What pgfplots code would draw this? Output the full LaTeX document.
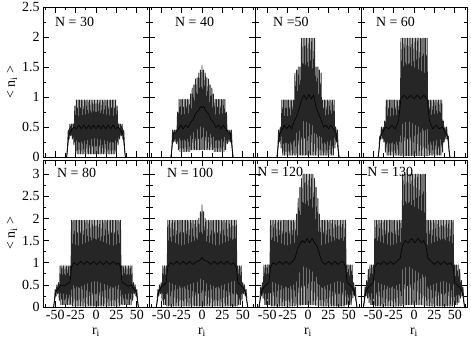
\documentclass[border=0pt]{standalone}
\usepackage{fontspec}
\setmainfont{Liberation Serif}
\usepackage{pgfplots}
\pgfplotsset{compat=1.18}
\usepgfplotslibrary{groupplots}
\pgfplotsset{
  toprow/.style={ymin=0,ymax=2.5,height=150bp,ytick={0,0.5,1,1.5,2,2.5}},
  botrow/.style={ymin=0,ymax=3.32,height=147bp,ytick={0,0.5,1,1.5,2,2.5,3}},
  zig/.style={black!85,line width=0.9pt,line join=round,no marks},
  avg/.style={black,line width=0.6pt,no marks},
}
\newcommand{\lab}[3]{\node[anchor=north west,inner sep=0pt,font=\fontsize{14}{14}\selectfont] at (rel axis cs:#1,#2) {#3};}
\begin{document}
\begin{tikzpicture}
\begin{groupplot}[
  group style={group size=4 by 2, horizontal sep=0pt, vertical sep=3bp,
    xticklabels at=edge bottom, yticklabels at=edge left},
  scale only axis, width=106bp,
  xmin=-65, xmax=65,
  xtick={-50,-25,0,25,50},
  minor xtick={-62.5,-37.5,-12.5,12.5,37.5,62.5},
  minor y tick num=1,
  tick align=inside,
  major tick length=6bp, minor tick length=3.5bp,
  tick style={black,line width=0.7pt},
  axis line style={line width=0.9pt},
  every tick label/.append style={font=\fontsize{14}{14}\selectfont},
  /pgf/number format/assume math mode=true,
  label style={font=\fontsize{14}{14}\selectfont},
  ylabel style={at={(axis description cs:-0.292,0.5)},anchor=center},
  xlabel style={at={(axis description cs:0.5,-0.17)},anchor=center},
]
% ---------------- N = 30
\nextgroupplot[toprow, ylabel={< n\textsubscript{i} >}]
\addplot[zig] coordinates {(-36,0)(-35,0.15)(-34,0.45)(-33,0.3)(-32,0.55)(-31,0.35)(-30,0.55)(-29,0.3)(-28,0.55)(-27,0.2)(-26,0.85)(-25,0.08)
(-24,0.95)(-23,0.05)(-22,0.95)(-21,0.05)(-20,0.95)(-19,0.05)(-18,0.95)(-17,0.05)(-16,0.95)(-15,0.05)(-14,0.95)(-13,0.05)(-12,0.95)(-11,0.05)(-10,0.95)(-9,0.05)(-8,0.95)(-7,0.05)(-6,0.95)(-5,0.05)(-4,0.95)(-3,0.05)(-2,0.95)(-1,0.05)(0,0.95)(1,0.05)(2,0.95)(3,0.05)(4,0.95)(5,0.05)(6,0.95)(7,0.05)(8,0.95)(9,0.05)(10,0.95)(11,0.05)(12,0.95)(13,0.05)(14,0.95)(15,0.05)(16,0.95)(17,0.05)(18,0.95)(19,0.05)(20,0.95)(21,0.05)(22,0.95)(23,0.05)(24,0.95)
(25,0.08)(26,0.85)(27,0.2)(28,0.55)(29,0.3)(30,0.55)(31,0.35)(32,0.55)(33,0.3)(34,0.45)(35,0.15)(36,0)};
\addplot[avg] coordinates {(-36,0)(-33,0.38)(-30,0.45)(-27,0.5)(-24,0.47)(-21,0.53)(-18,0.47)(-15,0.53)(-12,0.47)(-9,0.53)(-6,0.47)(-3,0.53)(0,0.47)(3,0.53)(6,0.47)(9,0.53)(12,0.47)(15,0.53)(18,0.47)(21,0.53)(24,0.47)(27,0.5)(30,0.45)(33,0.38)(36,0)};
\lab{0.113}{0.933}{N = 30}
% ---------------- N = 40
\nextgroupplot[toprow]
\addplot[zig] coordinates {(-38,0)(-37,0.15)(-36,0.45)(-35,0.25)(-34,0.45)(-33,0.25)(-32,0.45)(-31,0.22)(-30,0.75)(-29,0.12)
(-28,0.96)(-27,0.09)(-26,0.96)(-25,0.09)(-24,0.96)(-23,0.09)(-22,0.96)(-21,0.09)(-20,0.96)(-19,0.09)(-18,0.96)(-17,0.09)(-16,0.96)(-15,0.09)
(-14,1.05)(-13,0.12)(-12,1.15)(-11,0.12)(-10,1.2)(-9,0.12)(-8,1.3)(-7,0.12)(-6,1.32)(-5,0.12)(-4,1.4)(-3,0.12)(-2,1.45)(-1,0.12)(0,1.52)(1,0.12)(2,1.45)(3,0.12)(4,1.4)(5,0.12)(6,1.32)(7,0.12)(8,1.3)(9,0.12)(10,1.2)(11,0.12)(12,1.15)(13,0.12)(14,1.05)
(15,0.09)(16,0.96)(17,0.09)(18,0.96)(19,0.09)(20,0.96)(21,0.09)(22,0.96)(23,0.09)(24,0.96)(25,0.09)(26,0.96)(27,0.09)(28,0.96)
(29,0.12)(30,0.75)(31,0.22)(32,0.45)(33,0.25)(34,0.45)(35,0.25)(36,0.45)(37,0.15)(38,0)};
\addplot[avg] coordinates {(-38,0)(-35,0.38)(-32,0.42)(-29,0.47)(-26,0.53)(-23,0.47)(-20,0.53)(-17,0.49)(-14,0.58)(-11,0.62)(-8,0.72)(-5,0.76)(-2,0.84)(0,0.82)(2,0.84)(5,0.76)(8,0.72)(11,0.62)(14,0.58)(17,0.49)(20,0.53)(23,0.47)(26,0.53)(29,0.47)(32,0.42)(35,0.38)(38,0)};
\lab{0.245}{0.933}{N = 40}
% ---------------- N = 50
\nextgroupplot[toprow]
\addplot[zig] coordinates {(-38,0)(-37,0.15)(-36,0.45)(-35,0.25)(-34,0.5)(-33,0.15)
(-32,0.95)(-31,0.03)(-30,0.95)(-29,0.03)(-28,0.95)(-27,0.03)(-26,0.95)(-25,0.03)(-24,0.95)(-23,0.03)(-22,0.95)(-21,0.03)(-20,0.95)(-19,0.03)(-18,0.95)(-17,0.03)
(-16,1.4)(-15,0.03)(-14,1.45)(-13,0.03)(-12,1.5)(-11,0.03)(-10,1.5)(-9,0.03)
(-8,1.98)(-7,0.03)(-6,1.98)(-5,0.03)(-4,1.98)(-3,0.03)(-2,1.98)(-1,0.03)(0,1.98)(1,0.03)(2,1.98)(3,0.03)(4,1.98)(5,0.03)(6,1.98)(7,0.03)(8,1.98)
(9,0.03)(10,1.5)(11,0.03)(12,1.5)(13,0.03)(14,1.45)(15,0.03)(16,1.4)
(17,0.03)(18,0.95)(19,0.03)(20,0.95)(21,0.03)(22,0.95)(23,0.03)(24,0.95)(25,0.03)(26,0.95)(27,0.03)(28,0.95)(29,0.03)(30,0.95)(31,0.03)(32,0.95)
(33,0.15)(34,0.5)(35,0.25)(36,0.45)(37,0.15)(38,0)};
\addplot[avg] coordinates {(-38,0)(-35,0.38)(-32,0.45)(-29,0.53)(-26,0.47)(-23,0.53)(-20,0.47)(-17,0.6)(-14,0.68)(-11,0.8)(-8,0.95)(-5,1.03)(-2,0.96)(1,1.04)(4,0.97)(7,1.03)(10,0.82)(13,0.72)(16,0.62)(19,0.5)(22,0.53)(25,0.47)(28,0.53)(31,0.47)(34,0.42)(38,0)};
\lab{0.17}{0.933}{N =50}
% ---------------- N = 60
\nextgroupplot[toprow]
\addplot[zig] coordinates {(-44,0)(-43,0.1)(-42,0.35)(-41,0.3)(-40,0.5)(-39,0.3)(-38,0.5)(-37,0.25)(-36,0.6)(-35,0.08)
(-34,0.95)(-33,0.03)(-32,0.95)(-31,0.03)(-30,0.95)(-29,0.03)(-28,0.95)(-27,0.03)(-26,0.95)(-25,0.03)(-24,0.95)(-23,0.03)(-22,0.95)(-21,0.03)(-20,0.95)(-19,0.03)(-18,0.95)(-17,0.02)
(-16,1.98)(-15,0.02)(-14,1.98)(-13,0.02)(-12,1.98)(-11,0.02)(-10,1.98)(-9,0.02)(-8,1.98)(-7,0.02)(-6,1.98)(-5,0.02)(-4,1.98)(-3,0.02)(-2,1.98)(-1,0.02)(0,1.98)(1,0.02)(2,1.98)(3,0.02)(4,1.98)(5,0.02)(6,1.98)(7,0.02)(8,1.98)(9,0.02)(10,1.98)(11,0.02)(12,1.98)(13,0.02)(14,1.98)(15,0.02)(16,1.98)
(17,0.02)(18,0.95)(19,0.03)(20,0.95)(21,0.03)(22,0.95)(23,0.03)(24,0.95)(25,0.03)(26,0.95)(27,0.03)(28,0.95)(29,0.03)(30,0.95)(31,0.03)(32,0.95)(33,0.03)(34,0.95)
(35,0.08)(36,0.6)(37,0.25)(38,0.5)(39,0.3)(40,0.5)(41,0.3)(42,0.35)(43,0.1)(44,0)};
\addplot[avg] coordinates {(-44,0)(-41,0.35)(-38,0.42)(-35,0.5)(-31,0.47)(-27,0.53)(-23,0.47)(-19,0.6)(-16,0.97)(-12,1.03)(-8,0.97)(-4,1.03)(0,0.97)(4,1.03)(8,0.97)(12,1.03)(16,0.97)(19,0.6)(23,0.47)(27,0.53)(31,0.47)(35,0.5)(38,0.42)(41,0.35)(44,0)};
\lab{0.14}{0.933}{N = 60}
% ---------------- N = 80
\nextgroupplot[botrow, ylabel={< n\textsubscript{i} >}, xlabel={r\textsubscript{i}}]
\addplot[zig] coordinates {(-52,0)(-51,0.15)(-50,0.4)(-49,0.25)(-48,0.5)(-47,0.3)(-46,0.55)(-45,0.15)
(-44,0.93)(-43,0.05)(-42,0.93)(-41,0.05)(-40,0.93)(-39,0.05)(-38,0.93)(-37,0.05)(-36,0.93)(-35,0.05)(-34,0.93)(-33,0.05)(-32,0.93)(-31,0.05)
(-30,1.96)(-29,0.02)(-28,1.96)(-27,0.02)(-26,1.96)(-25,0.02)(-24,1.96)(-23,0.02)(-22,1.96)(-21,0.02)(-20,1.96)(-19,0.02)(-18,1.96)(-17,0.02)(-16,1.96)(-15,0.02)(-14,1.96)(-13,0.02)(-12,1.96)(-11,0.02)(-10,1.96)(-9,0.02)(-8,1.96)(-7,0.02)(-6,1.96)(-5,0.02)(-4,1.96)(-3,0.02)(-2,1.96)(-1,0.02)(0,1.96)(1,0.02)(2,1.96)(3,0.02)(4,1.96)(5,0.02)(6,1.96)(7,0.02)(8,1.96)(9,0.02)(10,1.96)(11,0.02)(12,1.96)(13,0.02)(14,1.96)(15,0.02)(16,1.96)(17,0.02)(18,1.96)(19,0.02)(20,1.96)(21,0.02)(22,1.96)(23,0.02)(24,1.96)(25,0.02)(26,1.96)(27,0.02)(28,1.96)(29,0.02)(30,1.96)
(31,0.05)(32,0.93)(33,0.05)(34,0.93)(35,0.05)(36,0.93)(37,0.05)(38,0.93)(39,0.05)(40,0.93)(41,0.05)(42,0.93)(43,0.05)(44,0.93)
(45,0.15)(46,0.55)(47,0.3)(48,0.5)(49,0.25)(50,0.4)(51,0.15)(52,0)};
\addplot[avg] coordinates {(-52,0)(-49,0.35)(-46,0.42)(-43,0.5)(-39,0.47)(-35,0.53)(-32,0.55)(-30,0.9)(-27,1.0)(-23,0.95)(-19,1.03)(-15,0.96)(-11,1.03)(-7,0.96)(-3,1.03)(1,0.96)(5,1.03)(9,0.96)(13,1.03)(17,0.96)(21,1.03)(25,0.96)(28,1.0)(30,0.9)(32,0.55)(35,0.53)(39,0.47)(43,0.5)(46,0.42)(49,0.35)(52,0)};
\lab{0.132}{0.946}{N = 80}
% ---------------- N = 100
\nextgroupplot[botrow, xlabel={r\textsubscript{i}}]
\addplot[zig] coordinates {(-56,0)(-55,0.15)(-54,0.4)(-53,0.25)(-52,0.5)(-51,0.3)(-50,0.55)(-49,0.15)
(-48,0.93)(-47,0.05)(-46,0.93)(-45,0.05)(-44,0.93)(-43,0.02)
(-42,1.96)(-41,0.02)(-40,1.96)(-39,0.02)(-38,1.96)(-37,0.02)(-36,1.96)(-35,0.02)(-34,1.96)(-33,0.02)(-32,1.96)(-31,0.02)(-30,1.96)(-29,0.02)(-28,1.96)(-27,0.02)(-26,1.96)(-25,0.02)(-24,1.96)(-23,0.02)(-22,1.96)(-21,0.02)(-20,1.96)(-19,0.02)(-18,1.96)(-17,0.02)(-16,1.96)(-15,0.02)(-14,1.96)(-13,0.02)(-12,1.96)(-11,0.02)(-10,1.96)(-9,0.02)(-8,1.96)(-7,0.02)(-6,1.96)(-5,0.02)
(-4,2.0)(-3,0.02)(-2,2.15)(-1,0.02)(0,2.3)(1,0.02)(2,2.15)(3,0.02)(4,2.0)
(5,0.02)(6,1.96)(7,0.02)(8,1.96)(9,0.02)(10,1.96)(11,0.02)(12,1.96)(13,0.02)(14,1.96)(15,0.02)(16,1.96)(17,0.02)(18,1.96)(19,0.02)(20,1.96)(21,0.02)(22,1.96)(23,0.02)(24,1.96)(25,0.02)(26,1.96)(27,0.02)(28,1.96)(29,0.02)(30,1.96)(31,0.02)(32,1.96)(33,0.02)(34,1.96)(35,0.02)(36,1.96)(37,0.02)(38,1.96)(39,0.02)(40,1.96)(41,0.02)(42,1.96)
(43,0.02)(44,0.93)(45,0.05)(46,0.93)(47,0.05)(48,0.93)
(49,0.15)(50,0.55)(51,0.3)(52,0.5)(53,0.25)(54,0.4)(55,0.15)(56,0)};
\addplot[avg] coordinates {(-56,0)(-53,0.35)(-50,0.45)(-47,0.5)(-44,0.55)(-42,0.9)(-39,1.0)(-35,0.96)(-31,1.03)(-27,0.96)(-23,1.03)(-19,0.96)(-15,1.03)(-11,0.96)(-7,1.03)(-3,1.05)(0,1.12)(3,1.05)(7,1.03)(11,0.96)(15,1.03)(19,0.96)(23,1.03)(27,0.96)(31,1.03)(35,0.96)(39,1.0)(42,0.9)(44,0.55)(47,0.5)(50,0.45)(53,0.35)(56,0)};
\lab{0.17}{0.946}{N = 100}
% ---------------- N = 120
\nextgroupplot[botrow, xlabel={r\textsubscript{i}}]
\addplot[zig] coordinates {(-60,0)(-59,0.15)(-58,0.45)(-57,0.25)(-56,0.55)(-55,0.2)
(-54,0.95)(-53,0.05)(-52,0.95)(-51,0.05)(-50,0.95)(-49,0.05)(-48,0.95)(-47,0.05)
(-46,1.96)(-45,0.02)(-44,1.96)(-43,0.02)(-42,1.96)(-41,0.02)(-40,1.96)(-39,0.02)(-38,1.96)(-37,0.02)(-36,1.96)(-35,0.02)(-34,1.96)(-33,0.02)(-32,1.96)(-31,0.02)(-30,1.96)(-29,0.02)(-28,1.96)(-27,0.02)(-26,1.96)(-25,0.02)(-24,1.96)(-23,0.02)(-22,1.96)(-21,0.02)(-20,1.96)(-19,0.02)(-18,1.96)(-17,0.02)(-16,1.96)(-15,0.03)
(-14,2.1)(-13,0.03)(-12,2.45)(-11,0.04)(-10,2.7)(-9,0.04)(-8,2.9)(-7,0.05)(-6,3.0)(-5,0.05)(-4,3.0)(-3,0.05)(-2,3.0)(-1,0.05)(0,3.0)(1,0.05)(2,3.0)(3,0.05)(4,3.0)(5,0.05)(6,3.0)(7,0.05)(8,2.9)(9,0.04)(10,2.7)(11,0.04)(12,2.45)(13,0.03)(14,2.1)
(15,0.03)(16,1.96)(17,0.02)(18,1.96)(19,0.02)(20,1.96)(21,0.02)(22,1.96)(23,0.02)(24,1.96)(25,0.02)(26,1.96)(27,0.02)(28,1.96)(29,0.02)(30,1.96)(31,0.02)(32,1.96)(33,0.02)(34,1.96)(35,0.02)(36,1.96)(37,0.02)(38,1.96)(39,0.02)(40,1.96)(41,0.02)(42,1.96)(43,0.02)(44,1.96)(45,0.02)(46,1.96)
(47,0.05)(48,0.95)(49,0.05)(50,0.95)(51,0.05)(52,0.95)(53,0.05)(54,0.95)
(55,0.2)(56,0.55)(57,0.25)(58,0.45)(59,0.15)(60,0)};
\addplot[avg] coordinates {(-60,0)(-57,0.35)(-54,0.45)(-51,0.5)(-48,0.55)(-46,0.9)(-43,1.0)(-39,0.96)(-35,1.03)(-31,0.96)(-27,1.03)(-23,0.96)(-19,1.03)(-16,1.1)(-13,1.3)(-10,1.42)(-7,1.5)(-4,1.45)(-1,1.55)(2,1.45)(5,1.55)(8,1.45)(11,1.38)(14,1.2)(17,1.03)(21,0.96)(25,1.03)(29,0.96)(33,1.03)(37,0.96)(41,1.03)(44,1.0)(46,0.9)(48,0.55)(51,0.5)(54,0.45)(57,0.35)(60,0)};
\lab{0.02}{0.952}{N = 120}
% ---------------- N = 130
\nextgroupplot[botrow, xlabel={r\textsubscript{i}}]
\addplot[zig] coordinates {(-62,0)(-61,0.15)(-60,0.45)(-59,0.25)(-58,0.6)(-57,0.2)(-56,0.85)(-55,0.1)
(-54,0.95)(-53,0.05)(-52,0.95)(-51,0.05)(-50,0.95)(-49,0.05)
(-48,1.96)(-47,0.02)(-46,1.96)(-45,0.02)(-44,1.96)(-43,0.02)(-42,1.96)(-41,0.02)(-40,1.96)(-39,0.02)(-38,1.96)(-37,0.02)(-36,1.96)(-35,0.02)(-34,1.96)(-33,0.02)(-32,1.96)(-31,0.02)(-30,1.96)(-29,0.02)(-28,1.96)(-27,0.02)(-26,1.96)(-25,0.02)(-24,1.96)(-23,0.02)(-22,1.96)(-21,0.02)(-20,1.96)(-19,0.02)(-18,1.96)(-17,0.02)(-16,1.96)(-15,0.03)
(-14,3.0)(-13,0.04)(-12,3.0)(-11,0.04)(-10,3.0)(-9,0.05)(-8,3.0)(-7,0.05)(-6,3.0)(-5,0.05)(-4,3.0)(-3,0.05)(-2,3.0)(-1,0.05)(0,3.0)(1,0.05)(2,3.0)(3,0.05)(4,3.0)(5,0.05)(6,3.0)(7,0.05)(8,3.0)(9,0.05)(10,3.0)(11,0.04)(12,3.0)(13,0.04)(14,3.0)
(15,0.03)(16,1.96)(17,0.02)(18,1.96)(19,0.02)(20,1.96)(21,0.02)(22,1.96)(23,0.02)(24,1.96)(25,0.02)(26,1.96)(27,0.02)(28,1.96)(29,0.02)(30,1.96)(31,0.02)(32,1.96)(33,0.02)(34,1.96)(35,0.02)(36,1.96)(37,0.02)(38,1.96)(39,0.02)(40,1.96)(41,0.02)(42,1.96)(43,0.02)(44,1.96)(45,0.02)(46,1.96)(47,0.02)(48,1.96)
(49,0.05)(50,0.95)(51,0.05)(52,0.95)(53,0.05)(54,0.95)
(55,0.1)(56,0.85)(57,0.2)(58,0.6)(59,0.25)(60,0.45)(61,0.15)(62,0)};
\addplot[avg] coordinates {(-62,0)(-59,0.35)(-56,0.45)(-53,0.5)(-50,0.55)(-48,0.9)(-45,1.0)(-41,0.96)(-37,1.03)(-33,0.96)(-29,1.03)(-25,0.96)(-21,1.03)(-17,1.1)(-14,1.4)(-11,1.5)(-7,1.45)(-3,1.55)(1,1.45)(5,1.55)(9,1.45)(12,1.5)(15,1.35)(17,1.1)(21,1.03)(25,0.96)(29,1.03)(33,0.96)(37,1.03)(41,0.96)(45,1.0)(48,0.9)(50,0.55)(53,0.5)(56,0.45)(59,0.35)(62,0)};
\lab{0.057}{0.952}{N = 130}
\end{groupplot}
\pgfresetboundingbox
\path[use as bounding box] ([xshift=-43bp,yshift=7bp]group c1r1.north west) rectangle ++(471bp,-341bp);
\end{tikzpicture}
\end{document}
